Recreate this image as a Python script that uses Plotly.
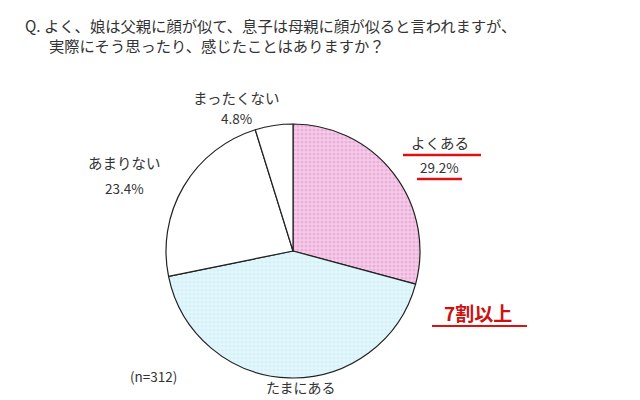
import plotly.graph_objects as go

labels = ["よくある", "たまにある", "あまりない", "まったくない"]
values = [29.2, 42.6, 23.4, 4.8]
fill_colors = ["#f7cdea", "#e2f8fc", "#ffffff", "#ffffff"]
pattern_fg = ["#eab0da", "#d6f2f8", "#ffffff", "#ffffff"]
pattern_shapes = [".", ".", "", ""]

title_lines = ["Q. よく、娘は父親に顔が似て、息子は母親に顔が似ると言われますが、",
               "実際にそう思ったり、感じたことはありますか？"]
n_label = "(n=312)"
callout = "7割以上"

FONT = "Noto Sans CJK JP"
W, H = 640, 400
CX, CY, R = 285, 243, 127

fig = go.Figure(go.Pie(
    labels=labels, values=values, sort=False, direction="clockwise", rotation=0,
    textinfo="none", hoverinfo="label+percent",
    marker=dict(colors=fill_colors, line=dict(color="#222222", width=1.2),
                pattern=dict(shape=pattern_shapes, fgcolor=pattern_fg,
                             bgcolor=fill_colors, size=4, solidity=0.5)),
    domain=dict(x=[(CX - R) / W, (CX + R) / W],
                y=[1 - (CY + R) / H, 1 - (CY - R) / H]),
    showlegend=False,
))

def px(x, y):
    return x / W, 1 - y / H

ann = []
def add_text(text, x, y, size=14, color="#333333", bold=False, xanchor="center"):
    ax, ay = px(x, y)
    t = f"<b>{text}</b>" if bold else text
    ann.append(dict(text=t, x=ax, y=ay, xref="paper", yref="paper", xanchor=xanchor,
                    yanchor="middle", showarrow=False, borderpad=0,
                    font=dict(family=FONT, size=size, color=color)))

add_text(title_lines[0], 16, 17, size=15.3, xanchor="left")
add_text(title_lines[1], 40, 37, size=15.3, xanchor="left")

pct = lambda v: f"{v:.1f}%"
add_text(labels[3], 228, 90, size=14.5)
add_text(pct(values[3]), 228, 110, size=13.5)
add_text(labels[2], 116, 155, size=14.5)
add_text(pct(values[2]), 116, 180, size=13.5)
add_text(labels[0], 432, 134, size=14.5)
add_text(pct(values[0]), 431, 159, size=13.5)
add_text(labels[1], 293, 379, size=14)
add_text(n_label, 145, 368, size=13.5)
add_text(callout, 470, 304, size=19, color="#cc1111", bold=True)

def hline(x0, x1, y, w=2.5):
    a0, b = px(x0, y)
    a1, _ = px(x1, y)
    return dict(type="line", xref="paper", yref="paper", x0=a0, x1=a1, y0=b, y1=b,
                line=dict(color="#dd1111", width=w))

shapes = [hline(395, 473, 147), hline(409, 454, 171), hline(424, 519, 318, 2)]

fig.update_layout(width=W, height=H, margin=dict(l=0, r=0, t=0, b=0),
                  paper_bgcolor="white", plot_bgcolor="white",
                  annotations=ann, shapes=shapes)
fig.write_html("out.html")
